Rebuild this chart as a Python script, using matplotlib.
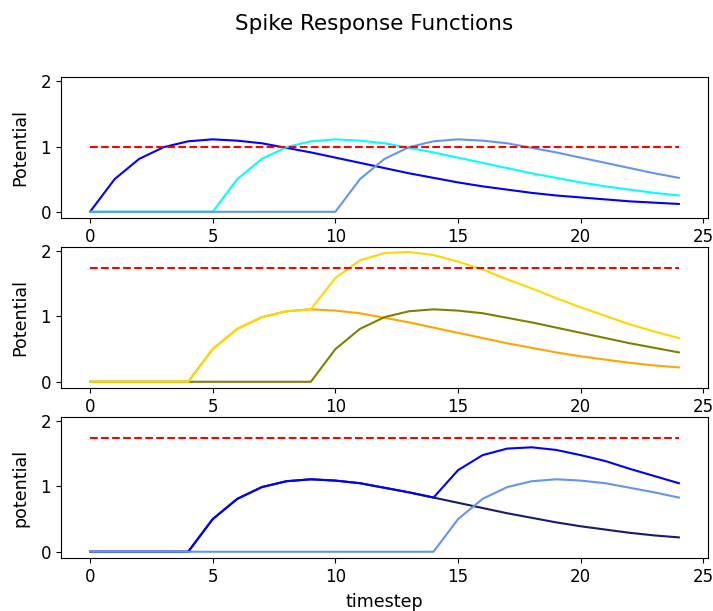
import matplotlib
matplotlib.use("Agg")
import matplotlib.pyplot as plt

# timesteps
t = list(range(25))

# top panel: one neuron fed spikes at t=0, 5, 10 (threshold 1.0)
resp_t0 = [0.00, 0.50, 0.81, 0.99, 1.08, 1.11, 1.09, 1.05, 0.98, 0.91, 0.83, 0.75, 0.67,
           0.59, 0.52, 0.45, 0.39, 0.34, 0.29, 0.25, 0.22, 0.19, 0.16, 0.14, 0.12]
resp_t5 = [0, 0, 0, 0, 0, 0.00, 0.50, 0.81, 0.99, 1.08, 1.11, 1.09, 1.05,
           0.98, 0.91, 0.83, 0.75, 0.67, 0.59, 0.52, 0.45, 0.39, 0.34, 0.29, 0.25]
resp_t10 = [0, 0, 0, 0, 0, 0, 0, 0, 0, 0, 0.00, 0.50, 0.81,
            0.99, 1.08, 1.11, 1.09, 1.05, 0.98, 0.91, 0.83, 0.75, 0.67, 0.59, 0.52]
thresh_top = 1.0

# middle panel: spikes at t=4 and t=9 and their summed potential
resp_t4 = [0, 0, 0, 0, 0.00, 0.50, 0.81, 0.99, 1.08, 1.11, 1.09, 1.05, 0.98,
           0.91, 0.83, 0.75, 0.67, 0.59, 0.52, 0.45, 0.39, 0.34, 0.29, 0.25, 0.22]
resp_t9 = [0, 0, 0, 0, 0, 0, 0, 0, 0, 0.00, 0.50, 0.81, 0.99,
           1.08, 1.11, 1.09, 1.05, 0.98, 0.91, 0.83, 0.75, 0.67, 0.59, 0.52, 0.45]
sum_4_9 = [0, 0, 0, 0, 0.00, 0.50, 0.81, 0.99, 1.08, 1.11, 1.59, 1.86, 1.97,
           1.99, 1.94, 1.84, 1.72, 1.57, 1.43, 1.28, 1.14, 1.01, 0.88, 0.77, 0.67]
thresh_mid = 1.75

# bottom panel: spikes at t=4 and t=14 and their summed potential
resp_b4 = [0, 0, 0, 0, 0.00, 0.50, 0.81, 0.99, 1.08, 1.11, 1.09, 1.05, 0.98,
           0.91, 0.83, 0.75, 0.67, 0.59, 0.52, 0.45, 0.39, 0.34, 0.29, 0.25, 0.22]
resp_b14 = [0, 0, 0, 0, 0, 0, 0, 0, 0, 0, 0, 0, 0,
            0, 0.00, 0.50, 0.81, 0.99, 1.08, 1.11, 1.09, 1.05, 0.98, 0.91, 0.83]
sum_4_14 = [0, 0, 0, 0, 0.00, 0.50, 0.81, 0.99, 1.08, 1.11, 1.09, 1.05, 0.98,
            0.91, 0.83, 1.25, 1.48, 1.58, 1.60, 1.56, 1.48, 1.39, 1.27, 1.16, 1.05]
thresh_bot = 1.75

fs = 12
lab_fs = 12.6
lw = 1.5

fig, axs = plt.subplots(3, 1, figsize=(7.13, 6.11), dpi=100)
fig.subplots_adjust(left=0.085, right=0.9934, top=0.8745, bottom=0.0863, hspace=0.2)
fig.suptitle("Spike Response Functions", fontsize=15.5, x=0.525, y=0.961, va="center")

ax = axs[0]
ax.plot(t, resp_t0, color="blue", lw=lw)
ax.plot(t, resp_t5, color="cyan", lw=lw)
ax.plot(t, resp_t10, color="cornflowerblue", lw=lw)
ax.plot(t, [thresh_top] * len(t), "r--", lw=lw)
ax.set_ylabel("Potential", fontsize=lab_fs, labelpad=8)

ax = axs[1]
ax.plot(t, resp_t4, color="orange", lw=lw)
ax.plot(t, resp_t9, color="olive", lw=lw)
ax.plot(t, sum_4_9, color="gold", lw=lw)
ax.plot(t, [thresh_mid] * len(t), "r--", lw=lw)
ax.set_ylabel("Potential", fontsize=lab_fs, labelpad=8)

ax = axs[2]
ax.plot(t, resp_b4, color="midnightblue", lw=lw)
ax.plot(t, sum_4_14, color="blue", lw=lw)
ax.plot(t, resp_b14, color="cornflowerblue", lw=lw)
ax.plot(t, [thresh_bot] * len(t), "r--", lw=lw)
ax.set_ylabel("potential", fontsize=lab_fs, labelpad=8)
ax.set_xlabel("timestep", fontsize=lab_fs, labelpad=5)

for ax in axs:
    ax.set_ylim(-0.1, 2.07)
    ax.set_yticks([0, 1, 2])
    ax.tick_params(labelsize=fs)

fig.savefig("out.png", dpi=100)
